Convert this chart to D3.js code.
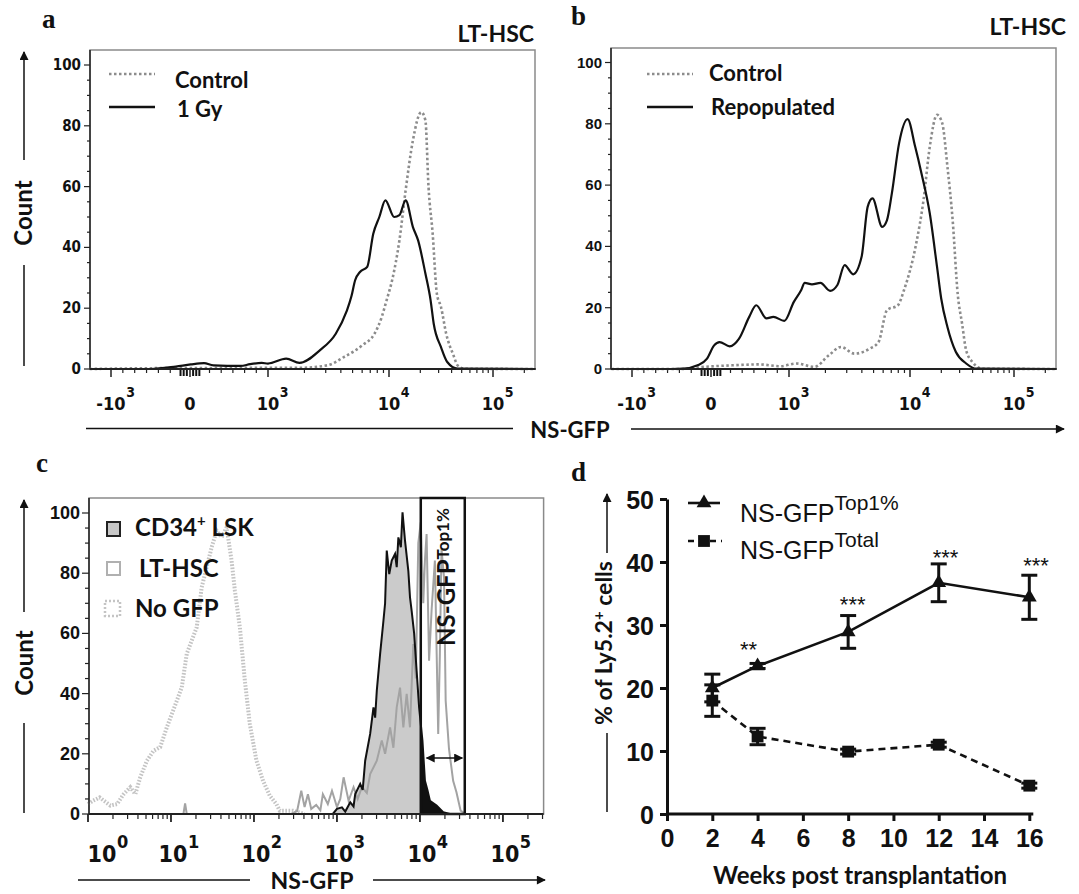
<!DOCTYPE html>
<html><head>
<script src="https://d3js.org/d3.v7.min.js"></script>
<style>
  body { margin: 0; background: #fff; }
  svg text { font-family: Lato, "Open Sans", sans-serif; font-weight: bold; fill: #111; }
  .narrow { font-family: "Liberation Sans Narrow", "DejaVu Sans Condensed", sans-serif !important; }
  .arial { font-family: "Liberation Sans", Arial, sans-serif !important; }
  .panel { font-family: "Liberation Serif", "Times New Roman", serif !important; font-size: 27px; }
</style>
</head>
<body>
<script>
// ---- panels a / b : flow histograms, x in display decades (-1 = -10^3, 0 = 0, 1 = 10^3, 2 = 10^4, 3 = 10^5)
const flowTicks = [-1, 0, 1, 2, 3];
const flowTickLabels = [["-10", "3"], ["0", ""], ["10", "3"], ["10", "4"], ["10", "5"]];
const countTicks = [0, 20, 40, 60, 80, 100];

const aControl = [[-1.27,0],[-0.3,0.3],[1.26,0.4],[1.49,1.2],[1.63,4],[1.78,7.8],[1.88,11.6],[1.94,17.1],[1.98,22.6],[2.03,29.2],[2.10,42.3],[2.16,58.8],[2.23,75.2],[2.31,84.5],[2.35,81.8],[2.38,59.9],[2.42,44.5],[2.46,24.8],[2.50,20.4],[2.55,11.6],[2.62,4.5],[2.66,1.2],[2.73,0.1],[3.41,0]];
const aGy = [[-1.27,0],[-0.5,0],[-0.18,0.8],[0.01,1.5],[0.18,1.9],[0.30,1.2],[0.65,1.0],[0.77,1.6],[0.92,2.0],[1.0,1.8],[1.15,3.4],[1.26,2.0],[1.43,6.2],[1.56,11.6],[1.65,19],[1.69,24],[1.72,29.2],[1.76,31.9],[1.82,33.6],[1.87,44.5],[1.92,50],[1.97,55.5],[2.05,50],[2.10,50.6],[2.16,55.5],[2.23,46.7],[2.28,42.3],[2.35,31.4],[2.40,22.6],[2.43,14.9],[2.50,7.2],[2.56,2.3],[2.66,0.1],[3.41,0]];

const bControl = [[-1.26,0],[-0.4,0],[-0.09,0.7],[0.27,1.2],[0.62,1.5],[0.89,0.9],[1.06,1.8],[1.21,0.7],[1.33,4.5],[1.43,7.2],[1.54,5],[1.67,6.7],[1.74,8.8],[1.81,19.2],[1.90,20.8],[1.95,25.7],[2.06,41],[2.13,55.1],[2.19,72.5],[2.26,82.9],[2.31,80.2],[2.36,66],[2.41,48.6],[2.46,24],[2.50,15],[2.54,6.1],[2.60,2.3],[2.70,0.1],[3.41,0]];
const bRepop = [[-1.26,0],[-0.5,0],[-0.35,0.1],[-0.17,1.2],[-0.05,3.4],[0.04,7.7],[0.11,8.8],[0.24,7.4],[0.36,9.9],[0.49,17],[0.58,20.8],[0.71,16.5],[0.80,17],[0.94,15.7],[1.04,21.9],[1.10,25.7],[1.13,28.1],[1.19,27.6],[1.26,28.1],[1.34,25.5],[1.40,27.4],[1.46,33.9],[1.53,30.9],[1.60,36.6],[1.65,52.9],[1.69,55.7],[1.77,46.4],[1.81,48.6],[1.85,57.3],[1.91,73.7],[1.98,81.5],[2.05,72.5],[2.11,63.9],[2.19,50.8],[2.26,33.3],[2.30,23],[2.36,13.7],[2.44,5.6],[2.54,1.8],[2.64,0.1],[3.41,0]];

// ---- panel c : x = log10(NS-GFP)
const cNoGfp = [[0,3.3],[0.06,4.4],[0.14,5.5],[0.27,2.8],[0.35,3.3],[0.43,6.6],[0.51,8.9],[0.57,6.6],[0.63,12.2],[0.71,17.7],[0.79,21],[0.87,22.2],[0.95,28.8],[1.01,33.2],[1.07,37.6],[1.13,42.1],[1.19,53.2],[1.25,57.6],[1.31,62],[1.37,75.3],[1.43,82],[1.49,88.6],[1.55,94.1],[1.61,91.9],[1.67,95.2],[1.73,84.2],[1.77,74.2],[1.83,62],[1.89,44.3],[1.95,29.9],[2.03,17.7],[2.11,11],[2.19,6.1],[2.27,3.3],[2.31,1.1],[2.47,1.1],[2.61,0]];
const cCd34 = [[2.95,0],[3.0,1.7],[3.06,2.2],[3.1,0.8],[3.16,3.9],[3.2,2.5],[3.22,6.6],[3.28,10],[3.31,8],[3.34,17.7],[3.40,26.6],[3.44,35.4],[3.46,32],[3.48,41],[3.52,53.2],[3.56,64.2],[3.58,70],[3.60,87.5],[3.63,79.7],[3.66,84.2],[3.70,86.4],[3.72,82],[3.74,91.9],[3.77,88.6],[3.79,100.2],[3.82,90.8],[3.86,80.8],[3.88,72],[3.90,67.5],[3.93,60],[3.96,47.6],[3.99,35.4],[4.03,24.4],[4.06,11],[4.09,8],[4.12,4.4],[4.20,2.8],[4.28,0.6],[4.36,0]];
const cLtHsc = [[1.15,0],[1.17,3.5],[1.19,0],[2.45,0],[2.52,1],[2.57,7.7],[2.61,2.3],[2.65,6.6],[2.69,1.7],[2.75,3],[2.80,1.2],[2.83,6.6],[2.89,3.3],[2.94,7.7],[3.0,2.3],[3.04,5],[3.08,12.2],[3.14,4.4],[3.20,8.9],[3.25,5],[3.30,9],[3.36,7],[3.40,13.3],[3.48,17.7],[3.54,24.4],[3.58,20],[3.64,28.8],[3.68,22],[3.72,35.4],[3.76,42],[3.80,28.8],[3.84,39.9],[3.88,28.8],[3.92,56.5],[3.95,45],[3.98,90],[4.01,96.9],[4.04,70],[4.06,84.2],[4.08,93],[4.11,50.9],[4.14,67.5],[4.18,84.2],[4.22,26.6],[4.24,53.2],[4.26,88],[4.29,78.6],[4.31,37.6],[4.35,21.6],[4.40,11],[4.44,7.2],[4.49,1.1],[4.55,0]];
const cDecades = [0, 1, 2, 3, 4, 5];
const cGate = [4.01, 4.54];

// ---- panel d
const weeks = [2, 4, 8, 12, 16];
const top1Mean = [20.0, 23.5, 28.9, 36.7, 34.4];
const top1Err = [2.2, 0.4, 2.6, 3.0, 3.5];
const totalMean = [18.0, 12.3, 9.9, 11.0, 4.5];
const totalErr = [2.5, 1.3, 0.4, 0.4, 0.4];
const sigText = ["**", "***", "***", "***"];
const sigWeek = [3.6, 8.2, 12.3, 16.3];
const sigLevel = [24.9, 32.0, 39.6, 38.3];

const svg = d3.select("body").append("svg").attr("width", 1079).attr("height", 894);

const defs = svg.append("defs");
defs.append("marker").attr("id", "arr").attr("viewBox", "0 0 10 10")
  .attr("refX", 9).attr("refY", 5).attr("markerWidth", 12).attr("markerHeight", 9)
  .attr("markerUnits", "userSpaceOnUse").attr("orient", "auto-start-reverse")
  .append("path").attr("d", "M0,0L10,5L0,10Z").attr("fill", "#111");

function supLabel(g, x, y, base, sup, size, supSize, supDy, cls) {
  const t = g.append("text").attr("class", cls).attr("x", x).attr("y", y)
    .attr("text-anchor", "middle").style("font-size", size + "px").text(base);
  if (sup) {
    const w = t.node().getComputedTextLength();
    g.append("text").attr("class", cls).attr("x", x + w / 2 + 0.5).attr("y", y - supDy)
      .style("font-size", supSize + "px").text(sup);
  }
}

function arrowLabel(x, yTop, yMidTop, yMidBot, yBot) {
  svg.append("line").attr("x1", x).attr("x2", x).attr("y1", yMidTop).attr("y2", yTop)
    .attr("stroke", "#111").attr("stroke-width", 1.5).attr("marker-end", "url(#arr)");
  svg.append("line").attr("x1", x).attr("x2", x).attr("y1", yMidBot).attr("y2", yBot)
    .attr("stroke", "#111").attr("stroke-width", 1.5);
}

function flowPanel(p) {
  const offsets = [21, 100, 178, 299, 403];
  const x = d3.scaleLinear().domain(flowTicks).range(offsets.map(o => p.left + o));
  const y = d3.scaleLinear().domain([0, 100]).range([p.bottom, p.y100]);
  const g = svg.append("g");
  const right = p.left + 445;

  g.append("rect").attr("x", p.left).attr("y", p.top).attr("width", 445).attr("height", p.bottom - p.top)
    .attr("fill", "none").attr("stroke", "#8a8a8a").attr("stroke-width", 1.5);
  g.append("line").attr("x1", p.left).attr("x2", p.left).attr("y1", p.top).attr("y2", p.bottom)
    .attr("stroke", "#222").attr("stroke-width", 1.5);

  // y ticks
  d3.range(0, 101, 5).forEach(v => {
    const major = v % 20 === 0;
    g.append("line").attr("x1", p.left - (major ? 6 : 3)).attr("x2", p.left)
      .attr("y1", y(v)).attr("y2", y(v)).attr("stroke", "#222").attr("stroke-width", 1.2);
  });
  countTicks.forEach(v => {
    g.append("text").attr("class", p.yFont).attr("x", p.left - 9).attr("y", y(v) + 5)
      .attr("text-anchor", "end").style("font-size", p.ySize + "px").text(v);
  });

  // x ticks
  const minor = [-0.85, -0.7, -0.55, -0.4, -0.25, 0.25, 0.4, 0.55, 0.7, 0.85];
  [1, 2].forEach(d => d3.range(2, 10).forEach(k => minor.push(d + Math.log10(k))));
  minor.push(3 + Math.log10(2));
  minor.forEach(u => g.append("line").attr("x1", x(u)).attr("x2", x(u)).attr("y1", p.bottom).attr("y2", p.bottom + 4)
    .attr("stroke", "#222").attr("stroke-width", 1.2));
  [-0.12, -0.08, -0.04, 0.04, 0.08, 0.12].forEach(u => g.append("line").attr("x1", x(u)).attr("x2", x(u))
    .attr("y1", p.bottom).attr("y2", p.bottom + 7).attr("stroke", "#111").attr("stroke-width", 2));
  flowTicks.forEach((u, i) => {
    g.append("line").attr("x1", x(u)).attr("x2", x(u)).attr("y1", p.bottom).attr("y2", p.bottom + 8)
      .attr("stroke", "#222").attr("stroke-width", 1.5);
    supLabel(g, x(u), 410, flowTickLabels[i][0], flowTickLabels[i][1], 18, 14, 13, "narrow");
  });

  const line = d3.line().x(d => x(d[0])).y(d => y(d[1])).curve(d3.curveMonotoneX);
  g.append("path").attr("d", line(p.dotted)).attr("fill", "none").attr("stroke", "#8c8c8c")
    .attr("stroke-width", 2.6).attr("stroke-dasharray", "2.5,2.5");
  g.append("path").attr("d", line(p.solid)).attr("fill", "none").attr("stroke", "#111").attr("stroke-width", 2.2);

  g.append("line").attr("x1", p.left).attr("x2", right).attr("y1", p.bottom).attr("y2", p.bottom)
    .attr("stroke", "#222").attr("stroke-width", 2);

  // legend
  g.append("line").attr("x1", p.lgX).attr("x2", p.lgX + 46).attr("y1", 74).attr("y2", 74)
    .attr("stroke", "#8c8c8c").attr("stroke-width", 2.6).attr("stroke-dasharray", "2.5,2.5");
  g.append("line").attr("x1", p.lgX).attr("x2", p.lgX + 46).attr("y1", 107).attr("y2", 107)
    .attr("stroke", "#111").attr("stroke-width", 2.4);
  g.append("text").attr("x", p.lgX + p.lgText).attr("y", p.lgY1).style("font-size", "22px").text("Control");
  g.append("text").attr("x", p.lgX + p.lgText + 2).attr("y", p.lgY2).style("font-size", "22px").text(p.solidName);

  g.append("text").attr("x", p.titleX).attr("y", p.titleY).attr("text-anchor", "end")
    .style("font-size", "23px").text("LT-HSC");
  g.append("text").attr("class", "panel").attr("x", p.lblX).attr("y", p.lblY).text(p.lbl);
}

flowPanel({ left: 90, top: 50, bottom: 369, y100: 65, dotted: aControl, solid: aGy, solidName: "1 Gy",
  yFont: "narrow", ySize: 15, lgX: 109, lgText: 66, lgY1: 88, lgY2: 117,
  titleX: 534, titleY: 42, lbl: "a", lblX: 42, lblY: 28 });
flowPanel({ left: 611, top: 48, bottom: 369, y100: 62.5, dotted: bControl, solid: bRepop, solidName: "Repopulated",
  yFont: "arial", ySize: 15, lgX: 647, lgText: 62, lgY1: 81, lgY2: 115,
  titleX: 1066, titleY: 35, lbl: "b", lblX: 571, lblY: 25 });

// shared a/b axis title
svg.append("line").attr("x1", 86).attr("x2", 513).attr("y1", 428.5).attr("y2", 428.5)
  .attr("stroke", "#111").attr("stroke-width", 1.5);
svg.append("line").attr("x1", 631).attr("x2", 1064).attr("y1", 429).attr("y2", 429)
  .attr("stroke", "#111").attr("stroke-width", 1.5).attr("marker-end", "url(#arr)");
svg.append("text").attr("x", 570).attr("y", 438).attr("text-anchor", "middle").style("font-size", "22px").text("NS-GFP");

arrowLabel(24, 52, 160, 265, 366);
svg.append("text").attr("transform", "translate(32,213) rotate(-90)").attr("text-anchor", "middle")
  .style("font-size", "24px").text("Count");

// ---- panel c
{
  const left = 89, right = 543.6, top = 498, bottom = 814;
  const x = d3.scaleLinear().domain([0, 5.49]).range([88, 543.6]);
  const y = d3.scaleLinear().domain([0, 100]).range([bottom, 513]);
  const g = svg.append("g");

  g.append("rect").attr("x", left).attr("y", top).attr("width", right - left).attr("height", bottom - top)
    .attr("fill", "none").attr("stroke", "#8a8a8a").attr("stroke-width", 1.5);

  const line = d3.line().x(d => x(d[0])).y(d => y(d[1]));
  const area = d3.area().x(d => x(d[0])).y0(bottom).y1(d => y(d[1]));

  g.append("path").attr("d", line(cNoGfp)).attr("fill", "none").attr("stroke", "#c4c4c4")
    .attr("stroke-width", 4).attr("stroke-dasharray", "1.6,1.6");
  g.append("path").attr("d", area(cCd34)).attr("fill", "#cbcbcb");
  defs.append("clipPath").attr("id", "gateClip").append("rect")
    .attr("x", x(cGate[0])).attr("y", top).attr("width", x(cGate[1]) - x(cGate[0])).attr("height", bottom - top);
  g.append("path").attr("d", area(cCd34)).attr("fill", "#111").attr("clip-path", "url(#gateClip)");
  g.append("path").attr("d", line(cLtHsc)).attr("fill", "none").attr("stroke", "#a3a3a3").attr("stroke-width", 2);
  g.append("path").attr("d", line(cCd34)).attr("fill", "none").attr("stroke", "#111").attr("stroke-width", 2);

  // gate
  g.append("rect").attr("x", x(cGate[0])).attr("y", top).attr("width", x(cGate[1]) - x(cGate[0]))
    .attr("height", bottom - top).attr("fill", "none").attr("stroke", "#111").attr("stroke-width", 2.5);
  g.append("line").attr("x1", x(4.08)).attr("x2", x(4.51)).attr("y1", y(18.6)).attr("y2", y(18.6))
    .attr("stroke", "#111").attr("stroke-width", 1.5)
    .attr("marker-start", "url(#arr)").attr("marker-end", "url(#arr)");
  const gt = g.append("text").attr("transform", `translate(455,577) rotate(-90)`).attr("text-anchor", "middle");
  gt.append("tspan").style("font-size", "24px").text("NS-GFP");
  gt.append("tspan").attr("dy", -6).style("font-size", "17px").text("Top1%");

  // axes
  g.append("line").attr("x1", left).attr("x2", left).attr("y1", top).attr("y2", bottom).attr("stroke", "#222").attr("stroke-width", 1.5);
  g.append("line").attr("x1", left).attr("x2", right).attr("y1", bottom).attr("y2", bottom).attr("stroke", "#222").attr("stroke-width", 2);
  d3.range(0, 101, 5).forEach(v => {
    const major = v % 20 === 0;
    g.append("line").attr("x1", left - (major ? 7 : 4)).attr("x2", left).attr("y1", y(v)).attr("y2", y(v))
      .attr("stroke", "#222").attr("stroke-width", 1.2);
  });
  countTicks.forEach(v => g.append("text").attr("class", "arial").attr("x", 80).attr("y", y(v) + 6)
    .attr("text-anchor", "end").style("font-size", "18px").text(v));
  cDecades.forEach(d => {
    d3.range(2, 10).map(k => d + Math.log10(k)).filter(u => u < 5.49).forEach(u =>
      g.append("line").attr("x1", x(u)).attr("x2", x(u)).attr("y1", bottom).attr("y2", bottom + 5)
        .attr("stroke", "#222").attr("stroke-width", 1.2));
    g.append("line").attr("x1", x(d)).attr("x2", x(d)).attr("y1", bottom).attr("y2", bottom + 8)
      .attr("stroke", "#222").attr("stroke-width", 1.8);
    supLabel(g, x(d) + (d === 0 ? 14 : 2), 862, "10", String(d), 23, 18, 14, "narrow");
  });

  // legend
  g.append("rect").attr("x", 107).attr("y", 522).attr("width", 13).attr("height", 14)
    .attr("fill", "#c8c8c8").attr("stroke", "#222").attr("stroke-width", 2);
  g.append("rect").attr("x", 107).attr("y", 562).attr("width", 13).attr("height", 13)
    .attr("fill", "#fff").attr("stroke", "#b0b0b0").attr("stroke-width", 2);
  g.append("rect").attr("x", 105).attr("y", 601).attr("width", 15).attr("height", 15)
    .attr("fill", "none").attr("stroke", "#c4c4c4").attr("stroke-width", 2.5).attr("stroke-dasharray", "2,2");
  const l1 = g.append("text").attr("x", 135).attr("y", 536).style("font-size", "24px");
  l1.append("tspan").text("CD34");
  l1.append("tspan").attr("dy", -10).style("font-size", "15px").text("+");
  l1.append("tspan").attr("dy", 10).text(" LSK");
  g.append("text").attr("x", 139).attr("y", 577).style("font-size", "24px").text("LT-HSC");
  g.append("text").attr("x", 135).attr("y", 617).style("font-size", "24px").text("No GFP");

  svg.append("line").attr("x1", 78).attr("x2", 250).attr("y1", 880).attr("y2", 880).attr("stroke", "#111").attr("stroke-width", 1.5);
  svg.append("line").attr("x1", 373).attr("x2", 545).attr("y1", 880).attr("y2", 880).attr("stroke", "#111")
    .attr("stroke-width", 1.5).attr("marker-end", "url(#arr)");
  svg.append("text").attr("x", 312).attr("y", 889).attr("text-anchor", "middle").style("font-size", "23px").text("NS-GFP");

  arrowLabel(24, 500, 612, 723, 813);
  svg.append("text").attr("transform", "translate(33,663) rotate(-90)").attr("text-anchor", "middle")
    .style("font-size", "24px").text("Count");
  svg.append("text").attr("class", "panel").attr("x", 36).attr("y", 472).text("c");
}

// ---- panel d
{
  const x = d3.scaleLinear().domain([0, 16]).range([667, 1029.3]);
  const y = d3.scaleLinear().domain([0, 50]).range([814, 499]);
  const g = svg.append("g");

  const xa = g.append("g").attr("transform", "translate(0,814)")
    .call(d3.axisBottom(x).tickValues(d3.range(0, 17, 2)).tickSize(7).tickSizeOuter(0).tickPadding(8));
  const ya = g.append("g").attr("transform", "translate(667,0)")
    .call(d3.axisLeft(y).tickValues(d3.range(0, 51, 10)).tickSize(7).tickSizeOuter(0).tickPadding(6));
  [xa, ya].forEach(a => {
    a.select(".domain").attr("stroke", "#111").attr("stroke-width", 3);
    a.selectAll(".tick line").attr("stroke", "#111").attr("stroke-width", 3);
    a.selectAll(".tick text").attr("class", "arial").style("font-size", "25px").style("font-weight", "bold").attr("fill", "#111");
  });
  xa.select(".domain").attr("d", `M${x(0)},0H${x(16) + 4}`);
  ya.selectAll(".tick text").attr("dy", "0.36em");

  const pts = (m) => weeks.map((w, i) => [w, m[i]]);
  const line = d3.line().x(d => x(d[0])).y(d => y(d[1]));
  g.append("path").attr("d", line(pts(top1Mean))).attr("fill", "none").attr("stroke", "#111").attr("stroke-width", 2.6);
  g.append("path").attr("d", line(pts(totalMean))).attr("fill", "none").attr("stroke", "#111")
    .attr("stroke-width", 2.6).attr("stroke-dasharray", "7,5");

  function errBars(mean, err) {
    weeks.forEach((w, i) => {
      const lo = y(mean[i] - err[i]), hi = y(mean[i] + err[i]), cx = x(w);
      g.append("line").attr("x1", cx).attr("x2", cx).attr("y1", lo).attr("y2", hi).attr("stroke", "#111").attr("stroke-width", 3);
      [lo, hi].forEach(v => g.append("line").attr("x1", cx - 8).attr("x2", cx + 8).attr("y1", v).attr("y2", v)
        .attr("stroke", "#111").attr("stroke-width", 3));
    });
  }
  errBars(top1Mean, top1Err);
  errBars(totalMean, totalErr);

  const tri = d3.symbol(d3.symbolTriangle).size(95)();
  const sq = d3.symbol(d3.symbolSquare).size(140)();
  weeks.forEach((w, i) => {
    g.append("path").attr("d", sq).attr("transform", `translate(${x(w)},${y(totalMean[i])})`).attr("fill", "#111");
    g.append("path").attr("d", tri).attr("transform", `translate(${x(w)},${y(top1Mean[i])})`).attr("fill", "#111");
  });

  sigText.forEach((s, i) => g.append("text").attr("class", "arial").attr("x", x(sigWeek[i])).attr("y", y(sigLevel[i]))
    .attr("text-anchor", "middle").style("font-size", "22px").style("font-weight", "normal").text(s));

  // legend
  g.append("line").attr("x1", 688).attr("x2", 720).attr("y1", 503).attr("y2", 503).attr("stroke", "#111").attr("stroke-width", 2.6);
  g.append("path").attr("d", tri).attr("transform", "translate(704,503)").attr("fill", "#111");
  g.append("line").attr("x1", 688).attr("x2", 722).attr("y1", 541).attr("y2", 541).attr("stroke", "#111")
    .attr("stroke-width", 2.6).attr("stroke-dasharray", "6,5");
  g.append("path").attr("d", sq).attr("transform", "translate(704,541)").attr("fill", "#111");
  const t1 = g.append("text").attr("class", "arial").attr("x", 740).attr("y", 522).style("font-size", "25px").style("font-weight", "normal");
  t1.append("tspan").text("NS-GFP");
  t1.append("tspan").attr("dy", -12).style("font-size", "21px").text("Top1%");
  const t2 = g.append("text").attr("class", "arial").attr("x", 740).attr("y", 559).style("font-size", "25px").style("font-weight", "normal");
  t2.append("tspan").text("NS-GFP");
  t2.append("tspan").attr("dy", -12).style("font-size", "21px").text("Total");

  g.append("text").attr("x", 860).attr("y", 884).attr("text-anchor", "middle").style("font-size", "24px")
    .text("Weeks post transplantation");
  arrowLabel(607, 494, 553, 733, 812);
  const yt = g.append("text").attr("transform", "translate(612,643) rotate(-90)").attr("text-anchor", "middle").style("font-size", "23px");
  yt.append("tspan").text("% of Ly5.2");
  yt.append("tspan").attr("dy", -8).style("font-size", "15px").text("+");
  yt.append("tspan").attr("dy", 8).text(" cells");
  svg.append("text").attr("class", "panel").attr("x", 571).attr("y", 481).text("d");
}
</script>
</body></html>
